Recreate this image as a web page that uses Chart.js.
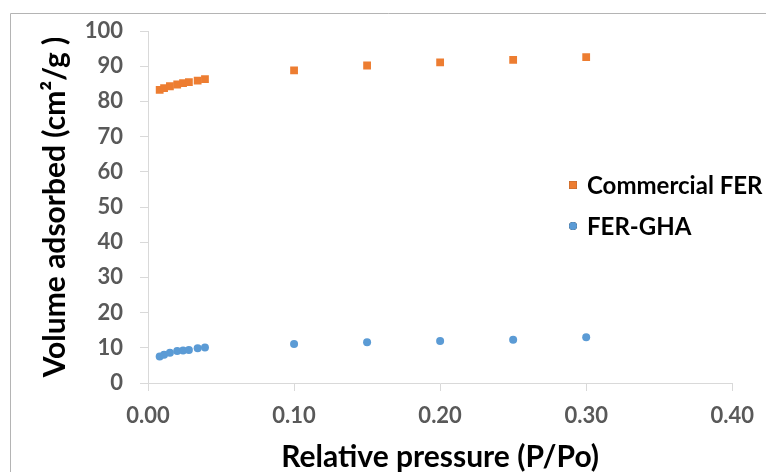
<!DOCTYPE html>
<html>
<head>
<meta charset="utf-8">
<script src="https://cdn.jsdelivr.net/npm/chart.js@4/dist/chart.umd.min.js"></script>
<style>
  html, body { margin: 0; padding: 0; background: #fff; }
  #wrap { width: 766px; height: 472px; position: relative; }
</style>
</head>
<body>
<div id="wrap"><canvas id="chart-area" width="766" height="472"></canvas></div>
<script>
// relative pressure P/Po
var pressure = [0.008, 0.011, 0.015, 0.020, 0.024, 0.028, 0.034, 0.039, 0.10, 0.15, 0.20, 0.25, 0.30];
var commercialFER = [83.3, 83.8, 84.3, 84.8, 85.2, 85.5, 85.9, 86.3, 88.8, 90.2, 91.1, 91.8, 92.6];
var ferGHA = [7.5, 8.0, 8.6, 9.1, 9.2, 9.4, 9.9, 10.1, 11.1, 11.6, 11.9, 12.3, 13.0];
var seriesNames = ['Commercial FER', 'FER-GHA'];

function toPoints(ys) {
  return pressure.map(function(p, i) { return { x: p, y: ys[i] }; });
}

var fontFam = 'Lato, "Open Sans", sans-serif';

var framePlugin = {
  id: 'frame',
  beforeDraw: function(chart) {
    var c = chart.ctx;
    c.save();
    c.strokeStyle = '#b4b4b4';
    c.lineWidth = 1;
    c.beginPath();
    c.moveTo(10.5, 472);
    c.lineTo(10.5, 13.5);
    c.lineTo(766, 13.5);
    c.stroke();
    c.restore();
  }
};

var legendPlugin = {
  id: 'sideLegend',
  afterDraw: function(chart) {
    var c = chart.ctx;
    var rows = [185, 226];
    c.save();
    chart.data.datasets.forEach(function(ds, i) {
      Chart.helpers.drawPoint(c, {
        pointStyle: ds.pointStyle,
        radius: ds.pointRadius,
        borderWidth: 0
      }, 573, rows[i]);
      c.fillStyle = ds.backgroundColor;
      c.fill();
      c.fillStyle = '#000';
      c.font = 'bold 24px ' + fontFam;
      c.textBaseline = 'middle';
      c.textAlign = 'left';
      c.fillText(ds.label, 587, rows[i] + 1);
    });
    c.restore();
  }
};

window.onload = function() {
  var ctx = document.getElementById('chart-area').getContext('2d');
  var config = {
    type: 'scatter',
    data: {
      datasets: [{
        label: seriesNames[0],
        data: toPoints(commercialFER),
        pointStyle: 'rect',
        pointRadius: 5.5,
        backgroundColor: '#ED7D31',
        borderColor: '#ED7D31',
        borderWidth: 0
      }, {
        label: seriesNames[1],
        data: toPoints(ferGHA),
        pointStyle: 'circle',
        pointRadius: 4,
        backgroundColor: '#5B9BD5',
        borderColor: '#5B9BD5',
        borderWidth: 0
      }]
    },
    options: {
      responsive: false,
      animation: false,
      layout: { padding: { left: 0, top: 31, right: 33, bottom: 0 } },
      plugins: {
        legend: { display: false },
        tooltip: { enabled: false }
      },
      scales: {
        x: {
          type: 'linear',
          min: 0,
          max: 0.4,
          afterFit: function(s) { s.height = 89; },
          border: { color: '#d9d9d9', width: 1 },
          grid: { drawOnChartArea: false, color: '#d9d9d9', tickLength: 8 },
          ticks: {
            stepSize: 0.1,
            padding: 12,
            color: '#595959',
            font: { family: fontFam, size: 22, weight: 'bold' },
            callback: function(v) { return v.toFixed(2); }
          },
          title: {
            display: true,
            text: 'Relative pressure (P/Po)',
            color: '#000',
            padding: { top: 0, bottom: 0 },
            font: { family: fontFam, size: 30, weight: 'bold', lineHeight: 1.0 }
          }
        },
        y: {
          min: 0,
          max: 100,
          afterFit: function(s) { s.width = 148; },
          border: { color: '#d9d9d9', width: 1 },
          grid: { drawOnChartArea: false, color: '#d9d9d9', tickLength: 8 },
          ticks: {
            stepSize: 10,
            padding: 17,
            color: '#595959',
            font: { family: fontFam, size: 22, weight: 'bold' }
          },
          title: {
            display: true,
            text: 'Volume adsorbed (cm²/g )',
            color: '#000',
            padding: { top: 37, bottom: 0 },
            font: { family: fontFam, size: 30, weight: 'bold', lineHeight: 1.2 }
          }
        }
      }
    },
    plugins: [framePlugin, legendPlugin]
  };
  window.myScatter = new Chart(ctx, config);
};
</script>
</body>
</html>
